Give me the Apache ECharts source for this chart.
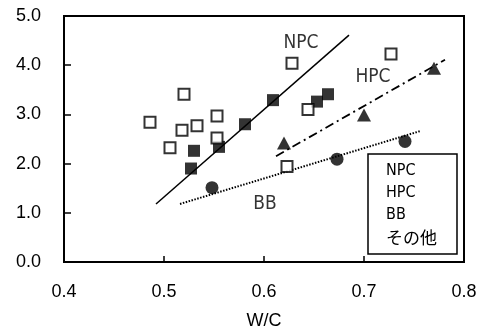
<!DOCTYPE html>
<html><head><meta charset="utf-8">
<script src="https://cdn.jsdelivr.net/npm/echarts@6/dist/echarts.min.js"></script>
<style>html,body{margin:0;padding:0;background:#fff}#c{width:486px;height:336px}</style>
</head><body><div id="c"></div>
<script>
// NPC (filled squares)
const npcX = [0.527, 0.530, 0.555, 0.581, 0.609, 0.653, 0.664];
const npcY = [1.90, 2.26, 2.34, 2.80, 3.29, 3.26, 3.41];
// HPC (filled triangles)
const hpcX = [0.620, 0.700, 0.770];
const hpcY = [2.42, 2.99, 3.94];
// BB (filled circles)
const bbX = [0.548, 0.673, 0.741];
const bbY = [1.51, 2.09, 2.45];
// その他 (open squares)
const othX = [0.486, 0.520, 0.518, 0.533, 0.506, 0.553, 0.553, 0.628, 0.727, 0.644, 0.623];
const othY = [2.84, 3.41, 2.68, 2.77, 2.32, 2.97, 2.52, 4.04, 4.23, 3.10, 1.94];
// trend lines [x0, y0, x1, y1]
const npcLine = [0.492, 1.18, 0.685, 4.61];
const hpcLine = [0.612, 2.15, 0.781, 4.11];
const bbLine = [0.516, 1.18, 0.756, 2.66];
// labels in plot
const lblNames = ['NPC', 'HPC', 'BB'];
const lblX = [0.637, 0.709, 0.601];
const lblY = [4.44, 3.75, 1.17];
const legendNames = ['NPC', 'HPC', 'BB', 'その他'];
const xTicks = [0.4, 0.5, 0.6, 0.7, 0.8];
const yTicks = [0, 1, 2, 3, 4, 5];

const zip = (a, b) => a.map((v, i) => [v, b[i]]);
const seg = l => [[l[0], l[1]], [l[2], l[3]]];
const NARROW = "'Liberation Sans Narrow', 'Arial Narrow', 'DejaVu Sans Condensed', sans-serif";
const MAIN = "'Liberation Sans', Arial, sans-serif";

const chart = echarts.init(document.getElementById('c'), null, {renderer: 'canvas'});
chart.setOption({
  animation: false,
  backgroundColor: '#fff',
  grid: {left: 64, top: 16, right: 22, bottom: 74, show: true, borderColor: '#000', borderWidth: 2, backgroundColor: 'transparent'},
  xAxis: {
    type: 'value', min: xTicks[0], max: xTicks[xTicks.length - 1], interval: 0.1,
    name: 'W/C', nameLocation: 'middle', nameGap: 50,
    nameTextStyle: {fontFamily: MAIN, fontSize: 18, color: '#000'},
    axisLine: {show: true, lineStyle: {color: '#000', width: 2}},
    axisTick: {show: true, inside: true, length: 6, lineStyle: {color: '#000', width: 1.5}},
    axisLabel: {fontFamily: MAIN, fontSize: 18, color: '#000', margin: 21, formatter: v => v.toFixed(1)},
    splitLine: {show: false}
  },
  yAxis: {
    type: 'value', min: yTicks[0], max: yTicks[yTicks.length - 1], interval: 1,
    axisLine: {show: true, lineStyle: {color: '#000', width: 2}},
    axisTick: {show: true, inside: true, length: 7, lineStyle: {color: '#000', width: 1.5}},
    axisLabel: {fontFamily: MAIN, fontSize: 18, color: '#000', margin: 23, formatter: v => v.toFixed(1)},
    splitLine: {show: false}
  },
  legend: {
    data: legendNames, orient: 'vertical', left: 368, top: 154,
    icon: 'none', itemWidth: 0, itemHeight: 16, itemGap: 6,
    padding: [9, 20, 8, 13],
    borderColor: '#000', borderWidth: 1.5, backgroundColor: '#fff',
    selectedMode: false,
    textStyle: {color: '#000', fontFamily: NARROW, fontSize: 16,
      rich: {j: {fontFamily: "'Noto Sans CJK JP', sans-serif", fontSize: 17, color: '#000'}}},
    formatter: n => n === 'その他' ? '{j|' + n + '}' : n
  },
  series: [
    {name: 'npcLine', type: 'line', data: seg(npcLine), symbol: 'none', lineStyle: {color: '#000', width: 1.5}, z: 1},
    {name: 'hpcLine', type: 'line', data: seg(hpcLine), symbol: 'none', lineStyle: {color: '#000', width: 1.8, type: [9, 4, 2, 4]}, z: 1},
    {name: 'bbLine', type: 'line', data: seg(bbLine), symbol: 'none', lineStyle: {color: '#000', width: 2, type: [1.5, 1.5]}, z: 1},
    {name: 'NPC', type: 'scatter', data: zip(npcX, npcY), symbol: 'rect', symbolSize: 12, itemStyle: {color: '#000'}, z: 3},
    {name: 'HPC', type: 'scatter', data: zip(hpcX, hpcY), symbol: 'triangle', symbolSize: [14, 13], itemStyle: {color: '#000'}, z: 3},
    {name: 'BB', type: 'scatter', data: zip(bbX, bbY), symbol: 'circle', symbolSize: 13, itemStyle: {color: '#000'}, z: 3},
    {name: 'その他', type: 'scatter', data: zip(othX, othY), symbol: 'rect', symbolSize: 11, itemStyle: {color: '#fff', borderColor: '#000', borderWidth: 2}, z: 3},
    {name: 'labels', type: 'scatter', symbolSize: 2, itemStyle: {color: 'rgba(0,0,0,0)'}, z: 4, silent: true,
      data: lblNames.map((n, i) => ({value: [lblX[i], lblY[i]], name: n})),
      label: {show: true, position: 'inside', formatter: p => p.name, color: '#000', fontFamily: NARROW, fontSize: 19}}
  ]
});
</script></body></html>
